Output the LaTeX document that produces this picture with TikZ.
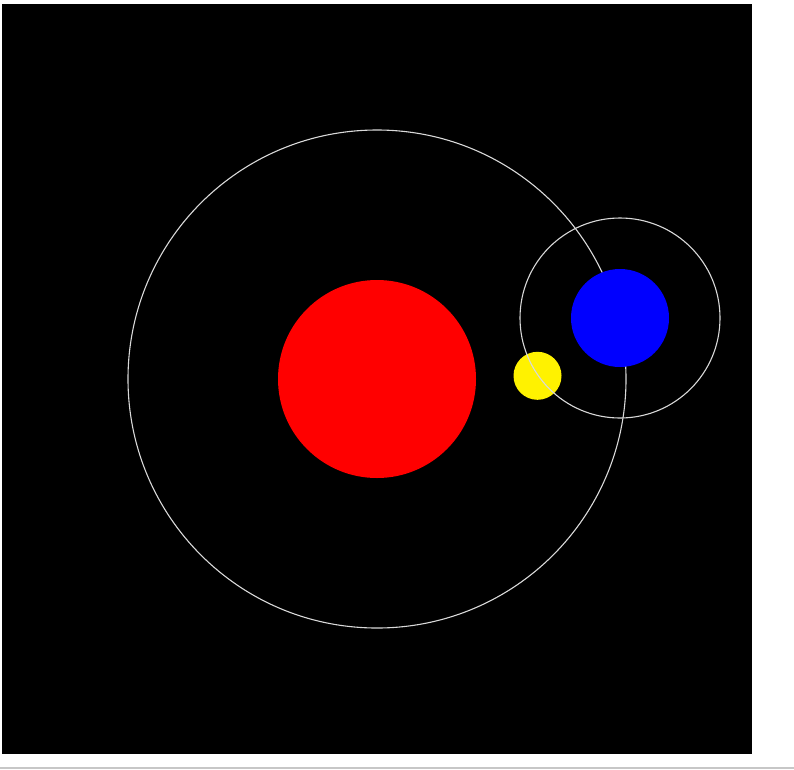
\documentclass[tikz,border=0pt]{standalone}
\begin{document}
\begin{tikzpicture}[x=1pt,y=-1pt,
  orbit/.style={draw=black!15, line width=1.1pt},
  body/.style={circle, inner sep=0pt, draw=none}]
\useasboundingbox (0,0) rectangle (794,769);
\fill[white] (0,0) rectangle (794,769);
\fill[black] (2,4) rectangle (752,754);
\draw[black!22, line width=1.2pt] (0,768) -- (794,768);
% big orbit
\draw[orbit] (377,379) circle[radius=249];
% bodies
\node[body, fill=red, minimum size=198pt] (sun) at (377,379) {};
\node[body, fill=blue, minimum size=98pt] (planet) at (620,318) {};
\node[body, fill=yellow, minimum size=48pt] (moon) at (537.5,375.8) {};
% small orbit
\draw[orbit] (planet.center) circle[radius=100];
\end{tikzpicture}
\end{document}
